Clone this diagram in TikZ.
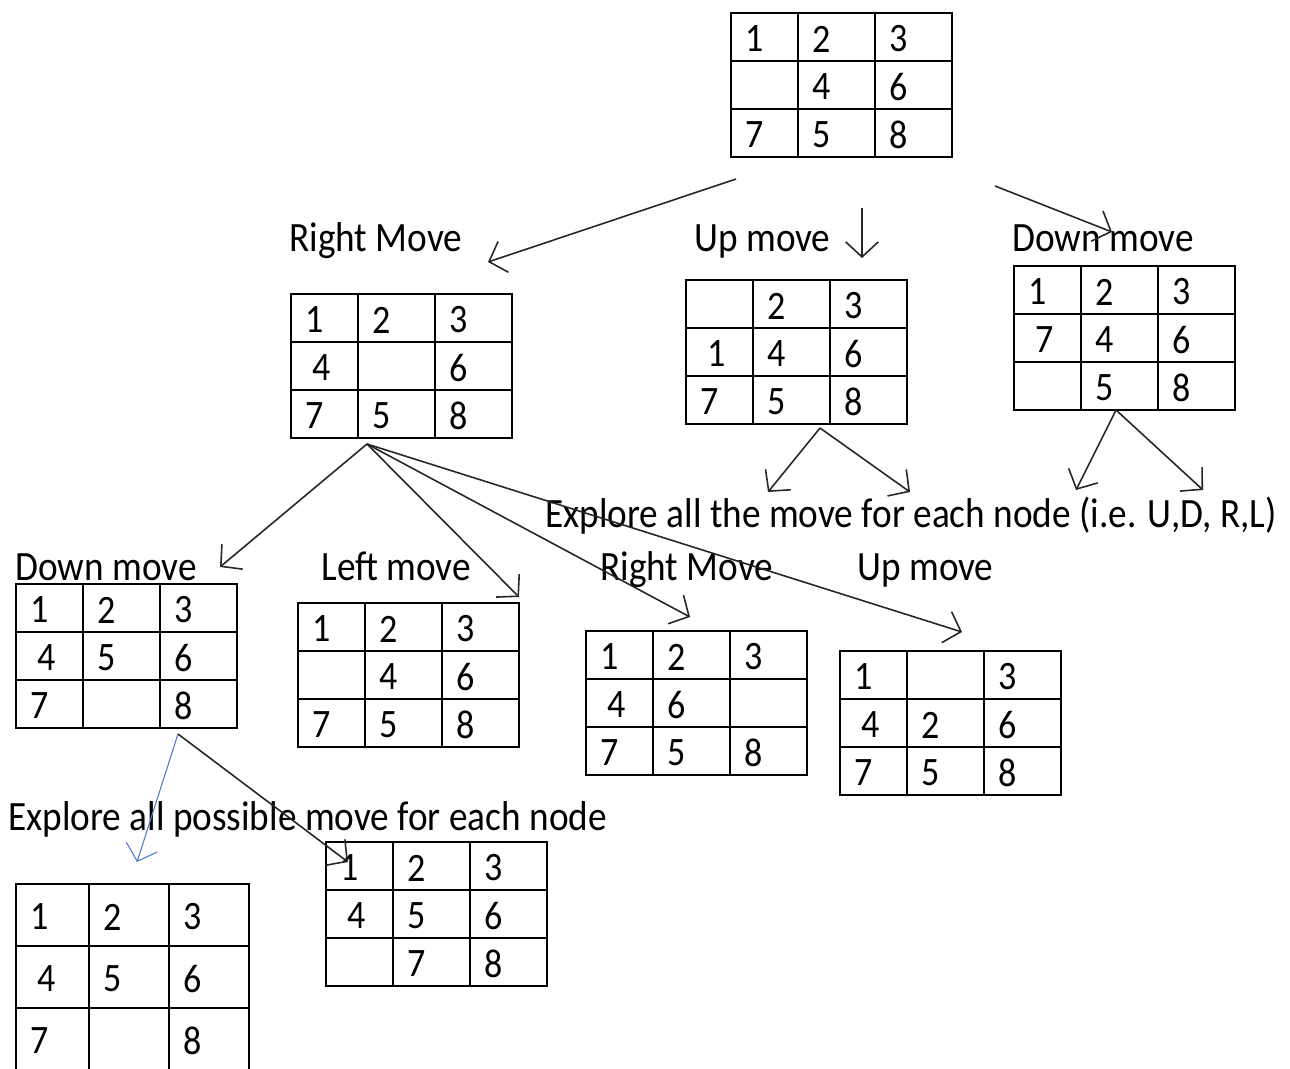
\documentclass[tikz,border=0pt]{standalone}
\usepackage{fontspec}
\setmainfont{Carlito}
\usetikzlibrary{arrows.meta}
\newcommand\tall[1]{\scalebox{1}[1.12]{#1}}
\tikzset{
	board/.style={draw, line width=1.2pt, inner sep=0, outer sep=0, anchor=north west},
	gridline/.style={line width=1.2pt},
	movetext/.style={anchor=base west, inner sep=0, font=\fontsize{21.2}{25}\selectfont},
	cell/.style={inner sep=0, font=\fontsize{20.5}{24}\selectfont},
	move/.style={->, line width=0.9pt, draw=black!85},
	>={Straight Barb[length=3mm,width=6.5mm]}
}
\newcommand\board[7]{% name, left, top, first column, other columns, row height, cells
	\node[board, minimum width={(#4+2*#5)*0.02cm}, minimum height={3*#6*0.02cm}] (#1) at (#2,#3) {};
	\draw[gridline] ({#2+#4},#3) -- ++(0,3*#6) ({#2+#4+#5},#3) -- ++(0,3*#6)
		(#2,{#3+#6}) -- ++({#4+2*#5},0) (#2,{#3+2*#6}) -- ++({#4+2*#5},0);
	\foreach \t [count=\k from 0] in {#7} {
		\pgfmathsetmacro\cx{#2+24+(\k==3)*7+(mod(\k,3)>0)*#4+(mod(\k,3)>1)*#5}
		\pgfmathsetmacro\cy{#3+(floor(\k/3)+0.5)*#6+2}
		\node[cell] at (\cx,\cy) {\tall{\t}};
	}
}

\begin{document}
\begin{tikzpicture}[x=0.02cm, y=-0.02cm]
	\useasboundingbox (0,0) rectangle (1290,1068);

	\board{start}{731}{13}{67}{77}{48}{1,2,3,,4,6,7,5,8}
	\board{rmove}{291}{294}{67}{77}{48}{1,2,3,4,,6,7,5,8}
	\board{umove}{686}{280}{67}{77}{48}{,2,3,1,4,6,7,5,8}
	\board{dmove}{1014}{266}{67}{77}{48}{1,2,3,7,4,6,,5,8}
	\board{rd}{16}{584}{67}{77}{48}{1,2,3,4,5,6,7,,8}
	\board{rl}{298}{603}{67}{77}{48}{1,2,3,,4,6,7,5,8}
	\board{rr}{586}{631}{67}{77}{48}{1,2,3,4,6,,7,5,8}
	\board{ru}{840}{651}{67}{77}{48}{1,,3,4,2,6,7,5,8}
	\board{rdu}{16}{884}{73}{80}{62}{1,2,3,4,5,6,7,,8}
	\board{rdr}{326}{842}{67}{77}{48}{1,2,3,4,5,6,,7,8}

	\node[movetext] (t1) at (289,251) {\tall{Right Move}};
	\node[movetext] (t2) at (694,251) {\tall{Up move}};
	\node[movetext] (t3) at (1012,251) {\tall{Down move}};
	\node[movetext] (t4) at (15,580) {\tall{Down move}};
	\node[movetext] (t5) at (321,580) {\tall{Left move}};
	\node[movetext] (t6) at (600,580) {\tall{Right Move}};
	\node[movetext] (t7) at (857,580) {\tall{Up move}};
	\node[movetext] (t8) at (545,527) {\tall{Explore all the move for each node (i.e. U,D, R,L)}};
	\node[movetext] (t9) at (8,830) {\tall{Explore all possible move for each node}};

	\coordinate (s1) at (736,179);
	\coordinate (s2) at (862,208);
	\coordinate (s3) at (995,186);
	\coordinate (u0) at (820,428);
	\coordinate (d0) at (1116,410);
	\coordinate (r0) at (367,444);
	\coordinate (q0) at (178,734);
	\coordinate (e1) at (488,262);
	\coordinate (e2) at (862,258);
	\coordinate (e3) at (1112,232);
	\coordinate (e4) at (768,492);
	\coordinate (e5) at (910,492);
	\coordinate (e6) at (1076,490);
	\coordinate (e7) at (1203,490);
	\coordinate (e8) at (220,567);
	\coordinate (e9) at (519,597);
	\coordinate (e10) at (690,617);
	\coordinate (e11) at (962,632);
	\coordinate (e12) at (137,862);
	\coordinate (e13) at (348,862);

	\draw[move] (s1) -- (e1);
	\draw[move] (s2) -- (e2);
	\draw[move] (s3) -- (e3);
	\draw[move] (u0) -- (e4);
	\draw[move] (u0) -- (e5);
	\draw[move] (d0) -- (e6);
	\draw[move] (d0) -- (e7);
	\foreach \e in {e8,e9,e10,e11}
		\draw[move] (r0) -- (\e);
	\draw[move, draw={rgb,255:red,80;green,120;blue,200}, line width=0.6pt] (q0) -- (e12);
	\draw[move] (q0) -- (e13);
\end{tikzpicture}
\end{document}
